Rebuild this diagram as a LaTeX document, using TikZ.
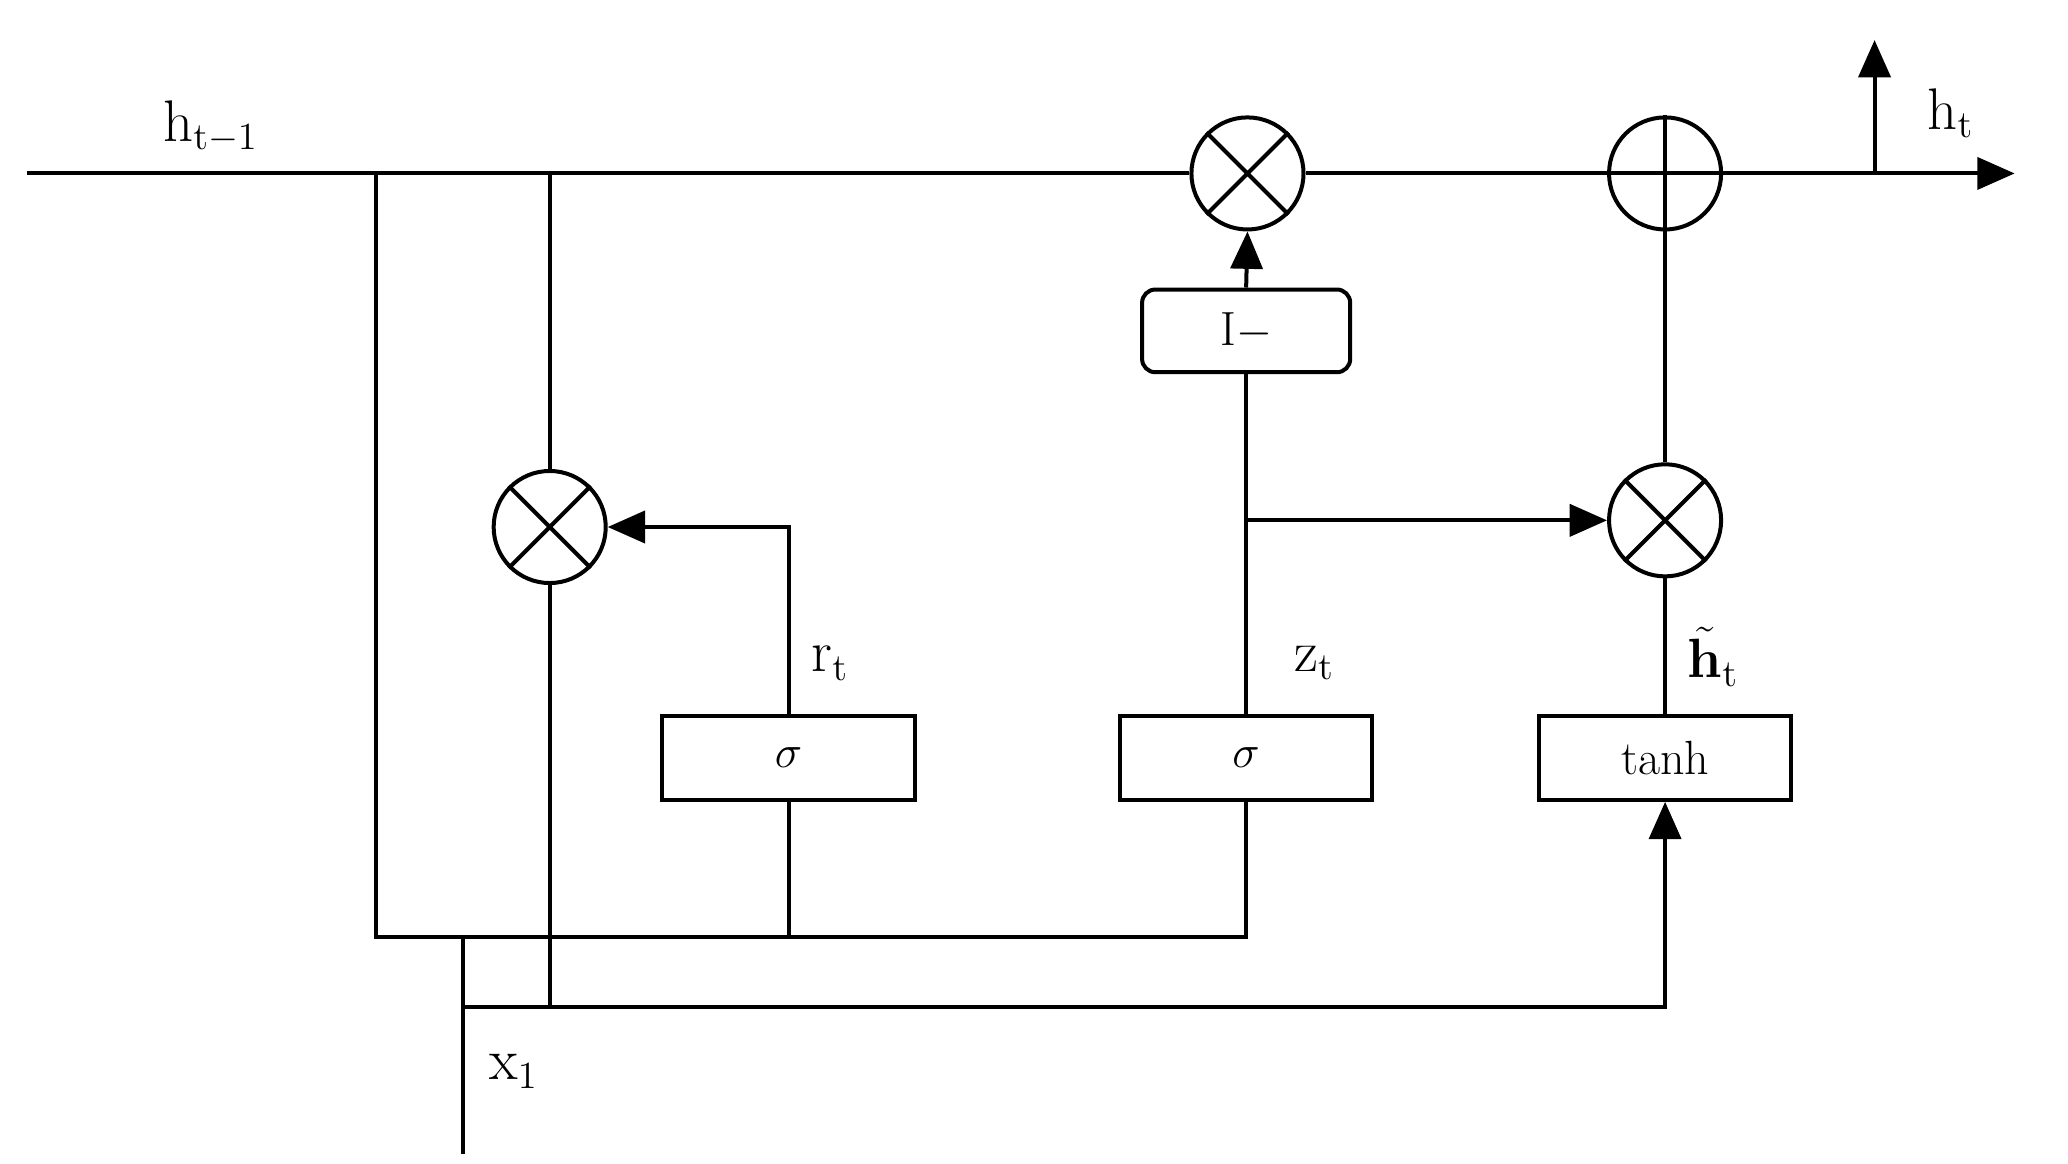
\documentclass[tikz,border=0pt]{standalone}
\usepackage{graphicx}
\usetikzlibrary{arrows.meta}
\newcommand{\sz}[1]{\scalebox{2}{#1}}
\begin{document}
\begin{tikzpicture}[x=1pt,y=-1pt,line width=3pt,
 arr/.style={-{Triangle[length=28pt,width=24pt]}},
 mul/.style={circle,draw,minimum size=84pt,inner sep=0pt},
 box/.style={draw,minimum width=189pt,minimum height=63pt,font=\fontsize{18}{20}\selectfont},
 lbl/.style={font=\fontsize{22}{24}\selectfont}]
\useasboundingbox (0,0) rectangle (1550,872);
% nodes
\node[mul] (m1) at (935,130) {};
\node[mul] (p1) at (1248,130) {};
\node[mul] (m2) at (412,395) {};
\node[mul] (m3) at (1248,390) {};
\draw (m1.north west)--(m1.south east) (m1.north east)--(m1.south west);
\draw (m2.north west)--(m2.south east) (m2.north east)--(m2.south west);
\draw (m3.north west)--(m3.south east) (m3.north east)--(m3.south west);
\draw (p1.north)--(p1.south);
\node[box] (s1) at (591,568) {\sz{$\sigma$}};
\node[box] (s2) at (934,568) {\sz{$\sigma$}};
\node[box] (th) at (1248,568) {\sz{tanh}};
\node[draw,rounded corners=10pt,minimum width=156pt,minimum height=62pt,font=\fontsize{18}{20}\selectfont] (im) at (934,248) {\sz{I$-$}};
% coordinates
\coordinate (L) at (20,130);
\coordinate (R) at (1510,130);
\coordinate (A) at (282,130);
\coordinate (B) at (412,130);
\coordinate (out) at (1405,130);
\coordinate (outT) at (1405,30);
\coordinate (x0) at (347,865);
% main line
\draw (L)--(m1.west);
\draw[arr] (m1.east)--(R);
\draw[arr] (out)--(outT);
% left verticals
\draw (A)--(282,702)--(934,702)--(s2.south);
\draw (591,702)--(s1.south);
\draw (B)--(m2.north);
\draw (m2.south)--(412,755);
\draw (x0)--(347,702);
\draw[arr] (347,755)--(1248,755)--(th.south);
% gates
\draw[arr] (s1.north)--(591,395)--(m2.east);
\draw (s2.north)--(im.south);
\draw[arr] (im.north)--(m1.south);
\draw[arr] (934,390)--(m3.west);
\draw (th.north)--(m3.south);
\draw (m3.north)--(p1.south);
% labels
\node[lbl] at (158,95) {\sz{h$_{\mathrm{t-1}}$}};
\node[lbl] at (1462,85) {\sz{h$_{\mathrm{t}}$}};
\node[lbl] at (622,497) {\sz{r$_{\mathrm{t}}$}};
\node[lbl] at (985,497) {\sz{z$_{\mathrm{t}}$}};
\node[lbl] at (1284,492) {\sz{$\tilde{\mathbf{h}}_{\mathrm{t}}$}};
\node[lbl] at (385,803) {\sz{x$_{1}$}};
\end{tikzpicture}
\end{document}
